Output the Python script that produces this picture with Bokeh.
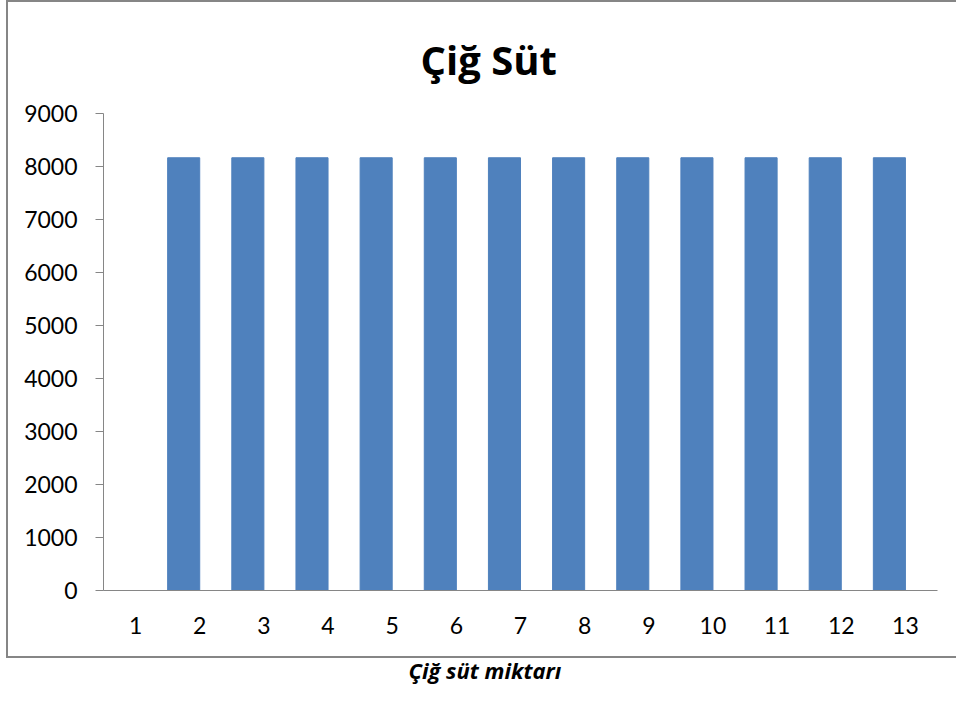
from bokeh.plotting import figure
from bokeh.models import FactorRange, Range1d, Title, FixedTicker, InlineStyleSheet
from bokeh.transform import dodge
from bokeh.embed import file_html
from bokeh.resources import INLINE

categories = [str(i) for i in range(1, 14)]
values = [0, 8165, 8165, 8165, 8165, 8165, 8165, 8165, 8165, 8165, 8165, 8165, 8165]
y_ticks = [0, 1000, 2000, 3000, 4000, 5000, 6000, 7000, 8000, 9000]
title_text = "Çiğ Süt"
x_title = "Çiğ süt miktarı"

FONT = "Lato"
TFONT = "Open Sans"
GRAY = "#868686"

# frame: left 103, right 937, top 113, bottom 590
p = figure(width=956, height=702, x_range=FactorRange(*categories, range_padding=0),
           y_range=Range1d(0, 9000), output_backend="svg", toolbar_location=None,
           min_border_left=103, min_border_right=19, min_border_top=113, min_border_bottom=112)
p.outline_line_color = None
p.xgrid.grid_line_color = None
p.ygrid.grid_line_color = None

p.vbar(x=dodge("x", -0.25, range=p.x_range), top="top", width=0.5,
       source=dict(x=categories, top=values), fill_color="#4F81BD", line_color="#4F81BD")

p.yaxis.ticker = FixedTicker(ticks=y_ticks)
p.yaxis.minor_tick_line_color = None
p.yaxis.major_tick_out = 8
p.yaxis.major_tick_in = 0
p.yaxis.axis_line_color = GRAY
p.yaxis.major_tick_line_color = GRAY
p.yaxis.major_label_standoff = 18
p.yaxis.major_label_text_font = FONT
p.yaxis.major_label_text_font_size = "23px"
p.yaxis.major_label_text_color = "black"

p.xaxis.major_tick_line_color = None
p.xaxis.major_tick_out = 0
p.xaxis.axis_line_color = GRAY
p.xaxis.major_label_standoff = 26
p.xaxis.major_label_text_font = FONT
p.xaxis.major_label_text_font_size = "23px"
p.xaxis.major_label_text_color = "black"

p.title.text = title_text
p.title.align = "left"
p.title.offset = 317
p.title.text_font = TFONT
p.title.text_font_style = "bold"
p.title.text_font_size = "40px"
p.title.text_color = "black"
p.title.standoff = 54

xt = Title(text=x_title, align="left", offset=305, text_font=TFONT,
           text_font_style="bold italic", text_font_size="22px", text_color="black",
           standoff=33)
p.add_layout(xt, "below")

# outer chart border (left, top and bottom edges; the right edge lies outside the view)
p.stylesheets = [InlineStyleSheet(css="""
:host { position: relative; }
:host::after {
  content: ""; position: absolute; left: 6px; right: 0px; top: 0px; height: 658px;
  border: 2px solid #868686; border-right: none; box-sizing: border-box;
  pointer-events: none;
}
""")]

open("out.html", "w").write(file_html(p, INLINE))
